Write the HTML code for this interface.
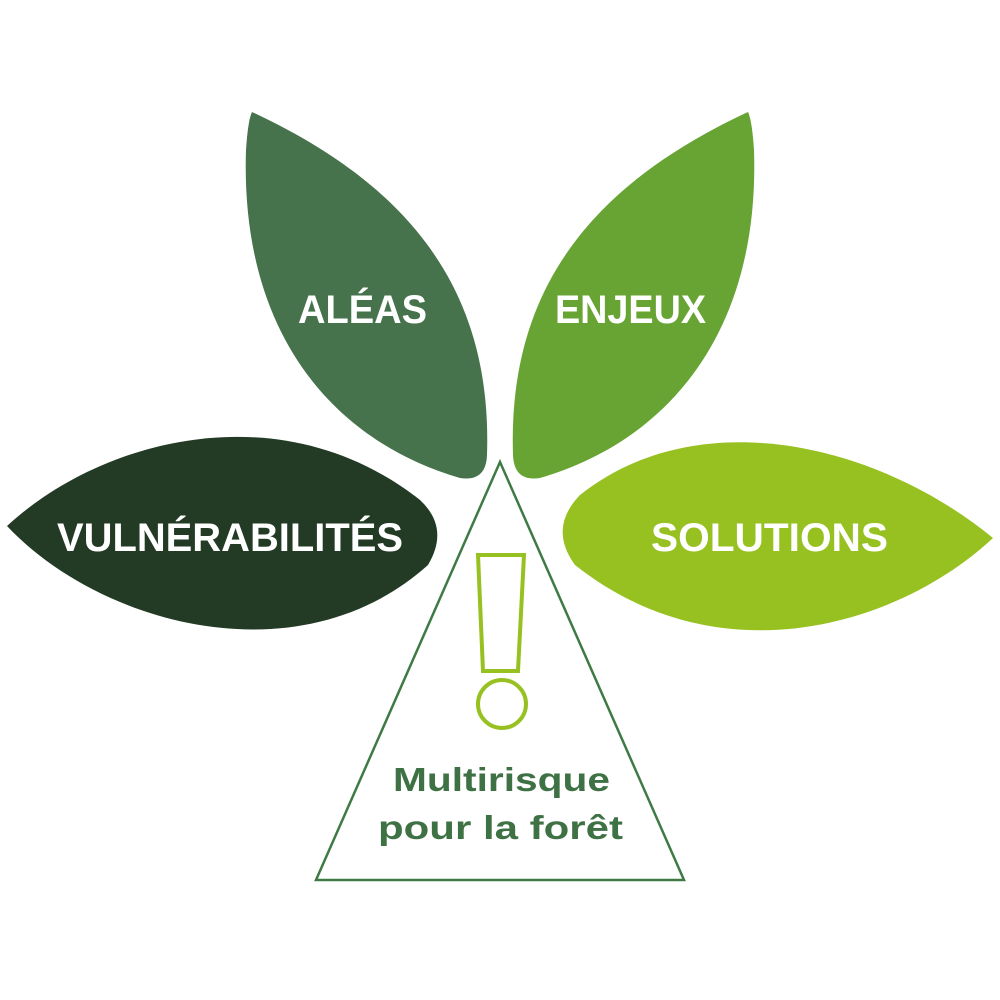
<!DOCTYPE html>
<html><head><meta charset="utf-8"><style>
html,body{margin:0;padding:0;background:#fff;}
svg{display:block;}
text{font-family:"Liberation Sans",sans-serif;font-weight:bold;}
</style></head><body>
<svg width="1000" height="1000" viewBox="0 0 1000 1000" xmlns="http://www.w3.org/2000/svg">
<rect width="1000" height="1000" fill="#fff"/>
<path d="M252,112 C420,190 492,300 487,455 Q486,482 460,478 C330,440 240,330 246,150 Q248,120 252,112 Z" fill="#46724c"/>
<path d="M252,112 C420,190 492,300 487,455 Q486,482 460,478 C330,440 240,330 246,150 Q248,120 252,112 Z" fill="#68a434" transform="translate(1000,0) scale(-1,1)"/>
<path d="M7,526 C100,440 280,390 420,500 Q450,528 428,565 C300,680 100,625 7,526 Z" fill="#233a25"/>
<path d="M993,538 C880,445 700,400 580,495 Q548,528 575,565 C720,680 900,625 993,538 Z" fill="#97c121"/>
<polygon points="500,462 684,880 316,880" fill="none" stroke="#3f7a45" stroke-width="2.5"/>
<polygon points="478,555 524,555 518,671 483,671" fill="none" stroke="#97c121" stroke-width="4"/>
<circle cx="502" cy="704" r="24" fill="none" stroke="#97c121" stroke-width="4"/>
<text x="298" y="323" font-size="40" fill="#fff" textLength="129" lengthAdjust="spacingAndGlyphs">ALÉAS</text>
<text x="555" y="323" font-size="40" fill="#fff" textLength="151" lengthAdjust="spacingAndGlyphs">ENJEUX</text>
<text x="57" y="551" font-size="40" fill="#fff" textLength="346" lengthAdjust="spacingAndGlyphs">VULNÉRABILITÉS</text>
<text x="651" y="551" font-size="40" fill="#fff" textLength="237" lengthAdjust="spacingAndGlyphs">SOLUTIONS</text>
<text x="393" y="791" font-size="33" fill="#3e7244" textLength="217" lengthAdjust="spacingAndGlyphs">Multirisque</text>
<text x="378" y="839" font-size="33" fill="#3e7244" textLength="245" lengthAdjust="spacingAndGlyphs">pour la forêt</text>
</svg>
</body></html>
